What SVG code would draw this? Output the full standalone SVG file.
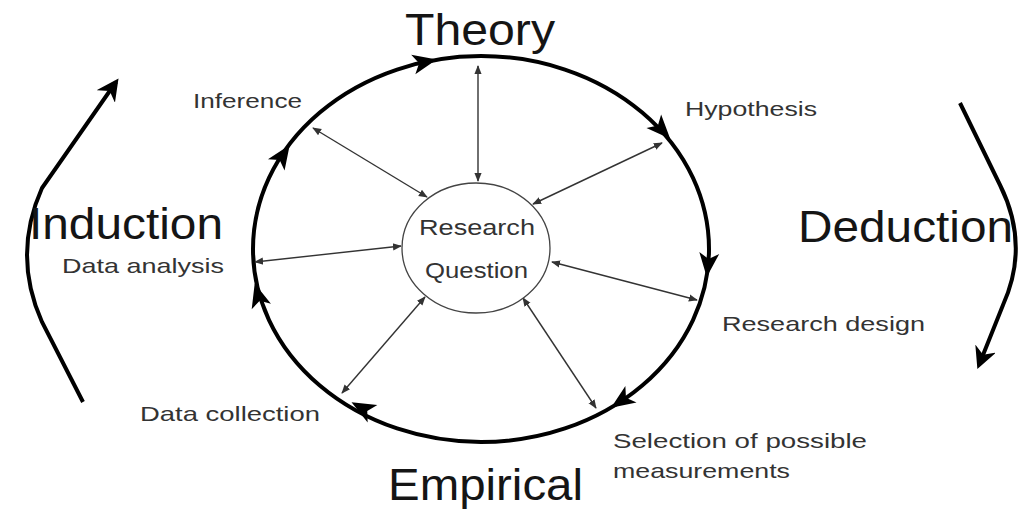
<svg xmlns="http://www.w3.org/2000/svg" width="1028" height="509" viewBox="0 0 1028 509">
<style>
.big{font-family:"Liberation Sans",Arial,sans-serif;font-size:44px;fill:#151515}
.lbl{font-family:"Liberation Sans",Arial,sans-serif;font-size:21px;fill:#333}
.spoke{stroke:#333;stroke-width:1.4;fill:none;marker-start:url(#sm);marker-end:url(#sm)}
.cyc{fill:#000}
.flow{stroke:#000;stroke-width:4;fill:none;marker-end:url(#bm)}
</style>
<defs>
<marker id="sm" viewBox="0 0 10 10" refX="9" refY="5" markerWidth="9" markerHeight="9" markerUnits="userSpaceOnUse" orient="auto-start-reverse">
<path d="M0,1 L10,5 L0,9 z" fill="#333"/>
</marker>
<marker id="bm" viewBox="0 0 10 10" refX="8" refY="5" markerWidth="22" markerHeight="22" markerUnits="userSpaceOnUse" orient="auto">
<path d="M0,0 L10,5 L0,10 L3,5 z" fill="#000"/>
</marker>
<polygon id="ah" points="12,0 -12,-10 -6,0 -12,10"/>
</defs>
<rect width="1028" height="509" fill="#fff"/>
<g id="cycle">
<ellipse cx="481" cy="249" rx="228" ry="193" fill="none" stroke="#000" stroke-width="4"/>
<use href="#ah" class="cyc" transform="translate(425,62) rotate(-12)"/>
<use href="#ah" class="cyc" transform="translate(662,130) rotate(47)"/>
<use href="#ah" class="cyc" transform="translate(708,265) rotate(96)"/>
<use href="#ah" class="cyc" transform="translate(621,401) rotate(146)"/>
<use href="#ah" class="cyc" transform="translate(362,408) rotate(209)"/>
<use href="#ah" class="cyc" transform="translate(258,295) rotate(254)"/>
<use href="#ah" class="cyc" transform="translate(283,155) rotate(-56)"/>
</g>
<g id="connectors">
<line class="spoke" x1="478" y1="66" x2="478" y2="181"/>
<line class="spoke" x1="313" y1="128" x2="427" y2="197"/>
<line class="spoke" x1="662" y1="143" x2="533" y2="204"/>
<line class="spoke" x1="255" y1="262" x2="401" y2="246"/>
<line class="spoke" x1="552" y1="262" x2="697" y2="300"/>
<line class="spoke" x1="523" y1="298" x2="596" y2="408"/>
<line class="spoke" x1="425" y1="297" x2="342" y2="393"/>
<path class="flow" d="M83 402 L42 322 Q12 255 42 188 L116 82"/>
<path class="flow" d="M960 103 L1000 185 Q1030 245 1003 305 L979 365"/>
</g>
<g id="research-question">
<ellipse cx="476" cy="248" rx="74" ry="65" fill="#fff" stroke="#444" stroke-width="1.3"/>
<text class="lbl" x="419" y="235" textLength="116" lengthAdjust="spacingAndGlyphs" style="font-size:22px">Research</text>
<text class="lbl" x="425" y="278" textLength="103" lengthAdjust="spacingAndGlyphs" style="font-size:22px">Question</text>
</g>
<g id="theory"><text class="big" x="405" y="45" textLength="150" lengthAdjust="spacingAndGlyphs">Theory</text></g>
<g id="induction"><text class="big" x="29" y="239" textLength="194" lengthAdjust="spacingAndGlyphs">Induction</text></g>
<g id="deduction"><text class="big" x="798" y="242" textLength="215" lengthAdjust="spacingAndGlyphs">Deduction</text></g>
<g id="empirical"><text class="big" x="388" y="500" textLength="195" lengthAdjust="spacingAndGlyphs">Empirical</text></g>
<g id="inference"><text class="lbl" x="193" y="108" textLength="109" lengthAdjust="spacingAndGlyphs">Inference</text></g>
<g id="hypothesis"><text class="lbl" x="685" y="116" textLength="132" lengthAdjust="spacingAndGlyphs">Hypothesis</text></g>
<g id="data-analysis"><text class="lbl" x="62" y="273" textLength="162" lengthAdjust="spacingAndGlyphs">Data analysis</text></g>
<g id="research-design"><text class="lbl" x="722" y="331" textLength="203" lengthAdjust="spacingAndGlyphs">Research design</text></g>
<g id="data-collection"><text class="lbl" x="140" y="421" textLength="180" lengthAdjust="spacingAndGlyphs">Data collection</text></g>
<g id="selection">
<text class="lbl" x="613" y="448" textLength="254" lengthAdjust="spacingAndGlyphs">Selection of possible</text>
<text class="lbl" x="613" y="478" textLength="177" lengthAdjust="spacingAndGlyphs">measurements</text>
</g>
</svg>
